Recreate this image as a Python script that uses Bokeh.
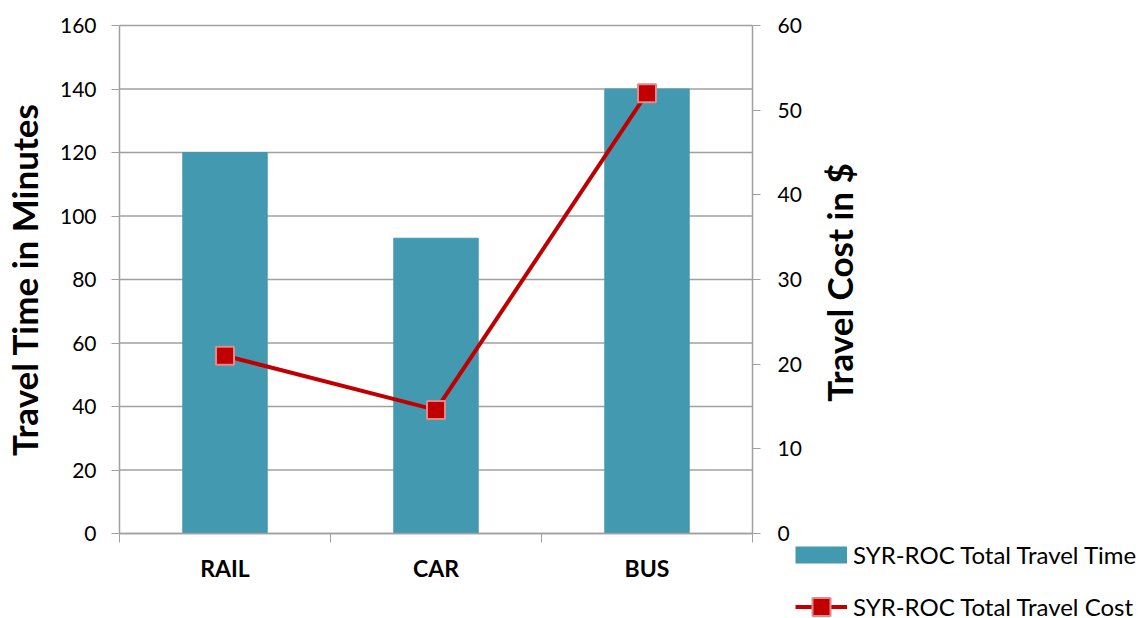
import math
from bokeh.plotting import figure
from bokeh.models import (LinearAxis, Range1d, FixedTicker, Legend, LegendItem,
                          ColumnDataSource, Label)
from bokeh.embed import file_html
from bokeh.resources import INLINE

# Syracuse–Rochester trip comparison by mode
modes = ["RAIL", "CAR", "BUS"]
travel_time_min = [120, 93, 140]
travel_cost_usd = [21, 14.6, 52]
time_ticks = [0, 20, 40, 60, 80, 100, 120, 140, 160]
cost_ticks = [0, 10, 20, 30, 40, 50, 60]

FONT = "Lato"
TEAL = "#4399b0"
RED = "#c00000"
MARKER_EDGE = "#e08a8a"
GRAY = "#a0a0a0"
W, H = 1141, 618

# page geometry (pixels): the drawing area fills the page and the axes are
# pinned around the chart body, leaving room for titles and the key
BODY_LEFT, BODY_TOP = 119, 25
BODY_RIGHT, BODY_BOTTOM = 752, 533
COST_TITLE_X, COST_TITLE_Y = 838, 282

n = len(modes)
t_max, c_max = time_ticks[-1], cost_ticks[-1]
px_x = (BODY_RIGHT - BODY_LEFT) / n          # pixels per category
px_t = (BODY_BOTTOM - BODY_TOP) / t_max      # pixels per minute
x_start, x_end = -BODY_LEFT / px_x, (W - BODY_LEFT) / px_x
t_start, t_end = -(H - BODY_BOTTOM) / px_t, t_max + BODY_TOP / px_t
c_start, c_end = t_start * c_max / t_max, t_end * c_max / t_max

centers = [i + 0.5 for i in range(n)]
bounds = [float(i) for i in range(n + 1)]

src = ColumnDataSource(dict(x=centers, mode=modes,
                            time=travel_time_min, cost=travel_cost_usd))
grid_src = ColumnDataSource(dict(y=time_ticks))

p = figure(width=W, height=H, output_backend="svg", toolbar_location=None,
           x_range=Range1d(x_start, x_end), y_range=Range1d(t_start, t_end),
           min_border=0)
p.extra_y_ranges = {"cost": Range1d(c_start, c_end),
                    "key": Range1d(1000, 1001)}
p.outline_line_color = None
p.background_fill_color = "white"
p.border_fill_color = "white"
p.xgrid.visible = False
p.ygrid.visible = False

# horizontal gridlines across the chart body only
p.segment(x0=0, x1=n, y0="y", y1="y", source=grid_src,
          line_color=GRAY, line_width=1.5)

p.vbar(x="x", top="time", width=0.4, source=src, color=TEAL)
line = p.line(x="x", y="cost", source=src, y_range_name="cost",
              line_color=RED, line_width=4)
pts = p.scatter(x="x", y="cost", source=src, y_range_name="cost", marker="square",
                size=18, fill_color=RED, line_color=MARKER_EDGE, line_width=2)

# flat teal stroke used only as the bar swatch in the key (kept off-canvas)
bar_key = p.line(x="x", y="time", source=src, y_range_name="key",
                 line_color=TEAL, line_width=17)

# x axis pinned at zero: labels at category centres, ticks at boundaries
xa = p.xaxis[0]
xa.fixed_location = 0
xa.bounds = (0, n)
xa.ticker = FixedTicker(ticks=centers, minor_ticks=bounds)
xa.major_label_overrides = {c: m for c, m in zip(centers, modes)}
xa.major_tick_line_color = None
xa.minor_tick_line_color = GRAY
xa.minor_tick_out = 9
xa.minor_tick_in = 0
xa.axis_line_color = GRAY
xa.axis_line_width = 1.5
xa.major_label_text_font = FONT
xa.major_label_text_font_style = "bold"
xa.major_label_text_font_size = "23px"
xa.major_label_text_color = "black"
xa.major_label_standoff = 11

ya = p.yaxis[0]
ya.fixed_location = 0
ya.bounds = (0, t_max)
ya.ticker = FixedTicker(ticks=time_ticks)
ya.axis_label = "Travel Time in Minutes"
ya.axis_label_text_font = FONT
ya.axis_label_text_font_style = "bold"
ya.axis_label_text_font_size = "35px"
ya.axis_label_text_color = "black"
ya.axis_label_standoff = 12
ya.major_label_text_font = FONT
ya.major_label_text_font_size = "21px"
ya.major_label_text_color = "black"
ya.major_label_standoff = 15
ya.major_tick_out = 8
ya.major_tick_in = 0
ya.minor_tick_line_color = None
ya.major_tick_line_color = GRAY
ya.axis_line_color = GRAY
ya.axis_line_width = 1.5

ra = LinearAxis(y_range_name="cost", ticker=FixedTicker(ticks=cost_ticks),
                fixed_location=n, bounds=(0, c_max))
ra.major_label_text_font = FONT
ra.major_label_text_font_size = "21px"
ra.major_label_text_color = "black"
ra.major_label_standoff = 17
ra.major_tick_out = 8
ra.major_tick_in = 0
ra.minor_tick_line_color = None
ra.major_tick_line_color = GRAY
ra.axis_line_color = GRAY
ra.axis_line_width = 1.5
p.add_layout(ra, "right")

# right-hand axis title, reading bottom to top like the left one
p.add_layout(Label(x=(COST_TITLE_X - BODY_LEFT) / px_x,
                   y=(BODY_BOTTOM - COST_TITLE_Y) / px_t,
                   text="Travel Cost in $", angle=math.pi / 2,
                   text_font=FONT, text_font_style="bold",
                   text_font_size="35px", text_color="black",
                   text_align="center", text_baseline="middle"))

legend = Legend(items=[
    LegendItem(label="SYR-ROC Total Travel Time", renderers=[bar_key]),
    LegendItem(label="SYR-ROC Total Travel Cost", renderers=[line, pts]),
], location=(795, -11))
legend.label_text_font = FONT
legend.label_text_font_size = "24px"
legend.label_text_color = "black"
legend.glyph_width = 52
legend.glyph_height = 45
legend.spacing = 7
legend.label_standoff = 6
legend.padding = 0
legend.margin = 0
legend.border_line_color = None
legend.background_fill_alpha = 0
p.add_layout(legend, "center")

open("out.html", "w").write(file_html(p, INLINE))
